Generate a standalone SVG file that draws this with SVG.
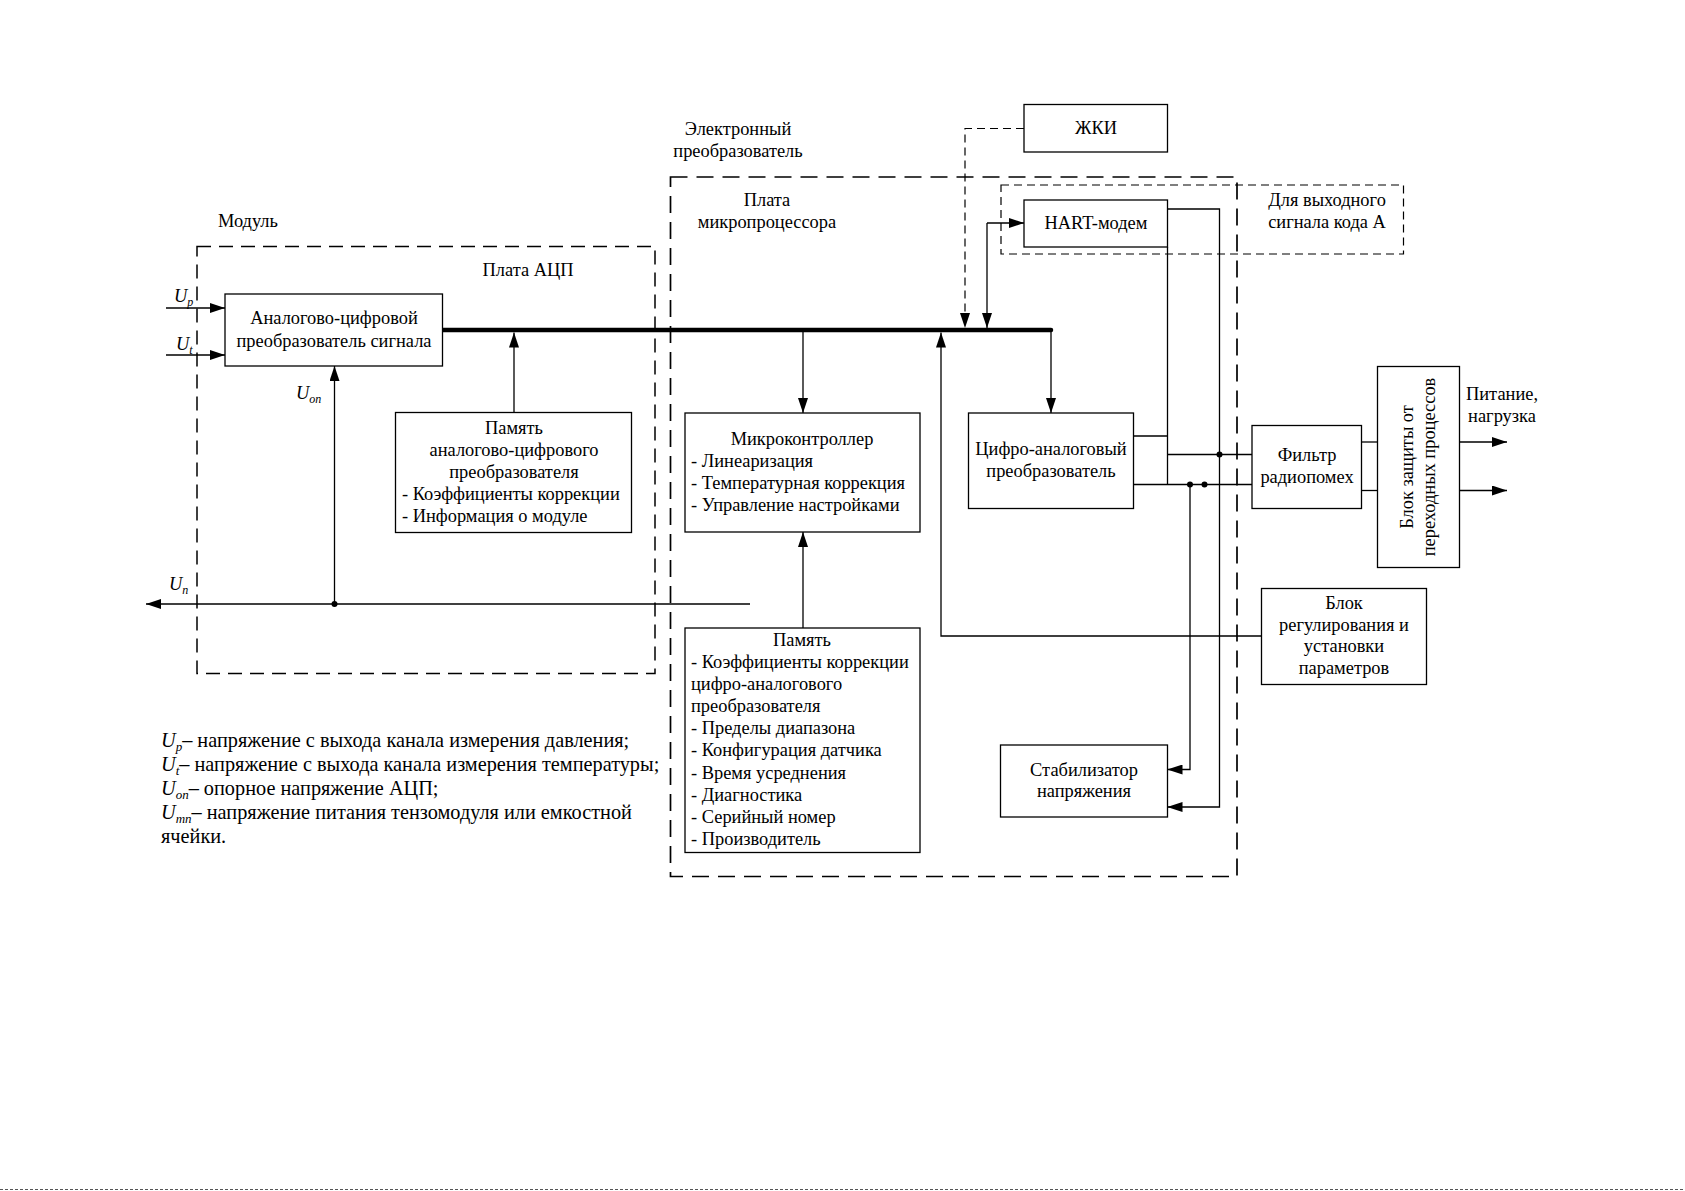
<svg xmlns="http://www.w3.org/2000/svg" width="1685" height="1191" viewBox="0 0 1685 1191">
<defs>
<style>
.t{font-family:"Liberation Serif","Times New Roman",serif;font-size:18.4px;fill:#000}
.c{text-anchor:middle}
.i{font-style:italic}
.lg{font-size:20.3px}
.box{fill:#fff;stroke:#000;stroke-width:1.3}
.ln{fill:none;stroke:#000;stroke-width:1.3}
.bus{fill:none;stroke:#000;stroke-width:4.5;stroke-linecap:round}
.dl{fill:none;stroke:#000;stroke-width:1.2;stroke-dasharray:8 5}
.dm{fill:none;stroke:#000;stroke-width:1.5;stroke-dasharray:14 8}
.de{fill:none;stroke:#000;stroke-width:1.7;stroke-dasharray:17 9}
</style>
<marker id="a" markerUnits="userSpaceOnUse" markerWidth="15" markerHeight="10" refX="15" refY="5" orient="auto">
<path d="M0,0 L15,5 L0,10 z" fill="#000"/>
</marker>
</defs>
<rect width="1685" height="1191" fill="#fff"/>

<g id="frames">
<rect class="dm" x="197" y="246.5" width="458" height="427"/>
<rect class="de" x="670.5" y="177" width="566.5" height="699.5"/>
<rect class="dl" x="1001" y="185" width="402.5" height="69"/>
</g>

<g id="frame-labels">
<text class="t" x="218" y="227">Модуль</text>
<text class="t c" x="528" y="276">Плата АЦП</text>
<text class="t c" x="738" y="135">Электронный</text>
<text class="t c" x="738" y="157">преобразователь</text>
<text class="t c" x="767" y="206">Плата</text>
<text class="t c" x="767" y="228">микропроцессора</text>
<text class="t c" x="1327" y="206">Для выходного</text>
<text class="t c" x="1327" y="228">сигнала кода А</text>
<text class="t c" x="1502" y="400">Питание,</text>
<text class="t c" x="1502" y="422">нагрузка</text>
</g>

<g id="connectors">
<path class="bus" d="M442.5,330 L1051,330"/>
<path class="ln" d="M166,308 L225,308" marker-end="url(#a)"/>
<path class="ln" d="M166,355 L225,355" marker-end="url(#a)"/>
<path class="ln" d="M334.5,604 L334.5,366" marker-end="url(#a)"/>
<path class="ln" d="M750,604 L146,604" marker-end="url(#a)"/>
<circle cx="334.5" cy="604" r="3"/>
<path class="ln" d="M514,412.5 L514,332.5" marker-end="url(#a)"/>
<path class="ln" d="M803,332 L803,413" marker-end="url(#a)"/>
<path class="ln" d="M803,628 L803,532" marker-end="url(#a)"/>
<path class="ln" d="M1051,330 L1051,413" marker-end="url(#a)"/>
<path class="ln" d="M1261.5,636 L941,636 L941,332.5" marker-end="url(#a)"/>
<path class="dl" d="M1024,128.5 L965,128.5 L965,313"/>
<path d="M960,313 L965,328 L970,313 z" fill="#000"/>
<path class="ln" d="M987,223 L987,328" marker-end="url(#a)"/>
<path class="ln" d="M987,223 L1024,223" marker-end="url(#a)"/>
<path class="ln" d="M1167.5,209 L1219.5,209 L1219.5,807 L1167.5,807" marker-end="url(#a)"/>
<path class="ln" d="M1167.5,247 L1167.5,484.5"/>
<path class="ln" d="M1133.5,436 L1167.5,436"/>
<path class="ln" d="M1167.5,454.5 L1252,454.5"/>
<path class="ln" d="M1133.5,484.5 L1252,484.5"/>
<circle cx="1219.5" cy="454.5" r="3"/>
<circle cx="1190" cy="484.5" r="3"/>
<circle cx="1204.5" cy="484.5" r="3"/>
<path class="ln" d="M1190,484.5 L1190,769.5 L1167.5,769.5" marker-end="url(#a)"/>
<path class="ln" d="M1361.5,442 L1377.5,442"/>
<path class="ln" d="M1361.5,490.5 L1377.5,490.5"/>
<path class="ln" d="M1459.5,442 L1507,442" marker-end="url(#a)"/>
<path class="ln" d="M1459.5,490.5 L1507,490.5" marker-end="url(#a)"/>
</g>

<g id="signal-labels">
<text class="t i" x="174" y="302">U<tspan font-size="12" dy="4">p</tspan></text>
<text class="t i" x="176" y="350">U<tspan font-size="12" dy="4">t</tspan></text>
<text class="t i" x="296" y="399">U<tspan font-size="12" dy="4">on</tspan></text>
<text class="t i" x="169" y="590">U<tspan font-size="12" dy="4">n</tspan></text>
</g>

<g id="adc">
<rect class="box" x="225" y="294" width="217.5" height="72"/>
<text class="t c" x="334" y="324">Аналогово-цифровой</text>
<text class="t c" x="334" y="347">преобразователь сигнала</text>
</g>

<g id="adc-memory">
<rect class="box" x="395.5" y="412.5" width="236" height="120"/>
<text class="t c" x="514" y="434">Память</text>
<text class="t c" x="514" y="456">аналогово-цифрового</text>
<text class="t c" x="514" y="478">преобразователя</text>
<text class="t" x="402" y="500">- Коэффициенты коррекции</text>
<text class="t" x="402" y="522">- Информация о модуле</text>
</g>

<g id="microcontroller">
<rect class="box" x="685" y="413" width="235" height="119"/>
<text class="t c" x="802" y="445">Микроконтроллер</text>
<text class="t" x="691" y="467">- Линеаризация</text>
<text class="t" x="691" y="489">- Температурная коррекция</text>
<text class="t" x="691" y="511">- Управление настройками</text>
</g>

<g id="memory">
<rect class="box" x="685" y="628" width="235" height="224.5"/>
<text class="t c" x="802" y="646">Память</text>
<text class="t" x="691" y="668">- Коэффициенты коррекции</text>
<text class="t" x="691" y="690">цифро-аналогового</text>
<text class="t" x="691" y="712">преобразователя</text>
<text class="t" x="691" y="734">- Пределы диапазона</text>
<text class="t" x="691" y="756">- Конфигурация датчика</text>
<text class="t" x="691" y="779">- Время усреднения</text>
<text class="t" x="691" y="801">- Диагностика</text>
<text class="t" x="691" y="823">- Серийный номер</text>
<text class="t" x="691" y="845">- Производитель</text>
</g>

<g id="dac">
<rect class="box" x="968.5" y="413" width="165" height="95.5"/>
<text class="t c" x="1051" y="455">Цифро-аналоговый</text>
<text class="t c" x="1051" y="477">преобразователь</text>
</g>

<g id="lcd">
<rect class="box" x="1024" y="104.5" width="143.5" height="47.5"/>
<text class="t c" x="1096" y="134">ЖКИ</text>
</g>

<g id="hart">
<rect class="box" x="1024" y="200" width="143.5" height="47"/>
<text class="t c" x="1096" y="229">HART-модем</text>
</g>

<g id="stabilizer">
<rect class="box" x="1000.5" y="745" width="167" height="72"/>
<text class="t c" x="1084" y="776">Стабилизатор</text>
<text class="t c" x="1084" y="797">напряжения</text>
</g>

<g id="filter">
<rect class="box" x="1252" y="425.5" width="109.5" height="83"/>
<text class="t c" x="1307" y="461">Фильтр</text>
<text class="t c" x="1307" y="483">радиопомех</text>
</g>

<g id="protection">
<rect class="box" x="1377.5" y="366.5" width="82" height="201"/>
<g transform="translate(1418.5,467) rotate(-90)">
<text class="t c" x="0" y="-6">Блок защиты от</text>
<text class="t c" x="0" y="16">переходных процессов</text>
</g>
</g>

<g id="regulation">
<rect class="box" x="1261.5" y="588.5" width="165" height="96"/>
<text class="t c" x="1344" y="609">Блок</text>
<text class="t c" x="1344" y="631">регулирования и</text>
<text class="t c" x="1344" y="652">установки</text>
<text class="t c" x="1344" y="674">параметров</text>
</g>

<g id="legend">
<text class="t lg" x="161" y="747"><tspan class="i">U</tspan><tspan class="i" font-size="13" dy="4">p</tspan><tspan dy="-4">– напряжение с выхода канала измерения давления;</tspan></text>
<text class="t lg" x="161" y="771"><tspan class="i">U</tspan><tspan class="i" font-size="13" dy="4">t</tspan><tspan dy="-4">– напряжение с выхода канала измерения температуры;</tspan></text>
<text class="t lg" x="161" y="795"><tspan class="i">U</tspan><tspan class="i" font-size="13" dy="4">on</tspan><tspan dy="-4">– опорное напряжение АЦП;</tspan></text>
<text class="t lg" x="161" y="819"><tspan class="i">U</tspan><tspan class="i" font-size="13" dy="4">mn</tspan><tspan dy="-4">– напряжение питания тензомодуля или емкостной</tspan></text>
<text class="t lg" x="161" y="843">ячейки.</text>
</g>

<line x1="0" y1="1189.5" x2="1685" y2="1189.5" stroke="#555" stroke-width="1" stroke-dasharray="3 2"/>
</svg>
